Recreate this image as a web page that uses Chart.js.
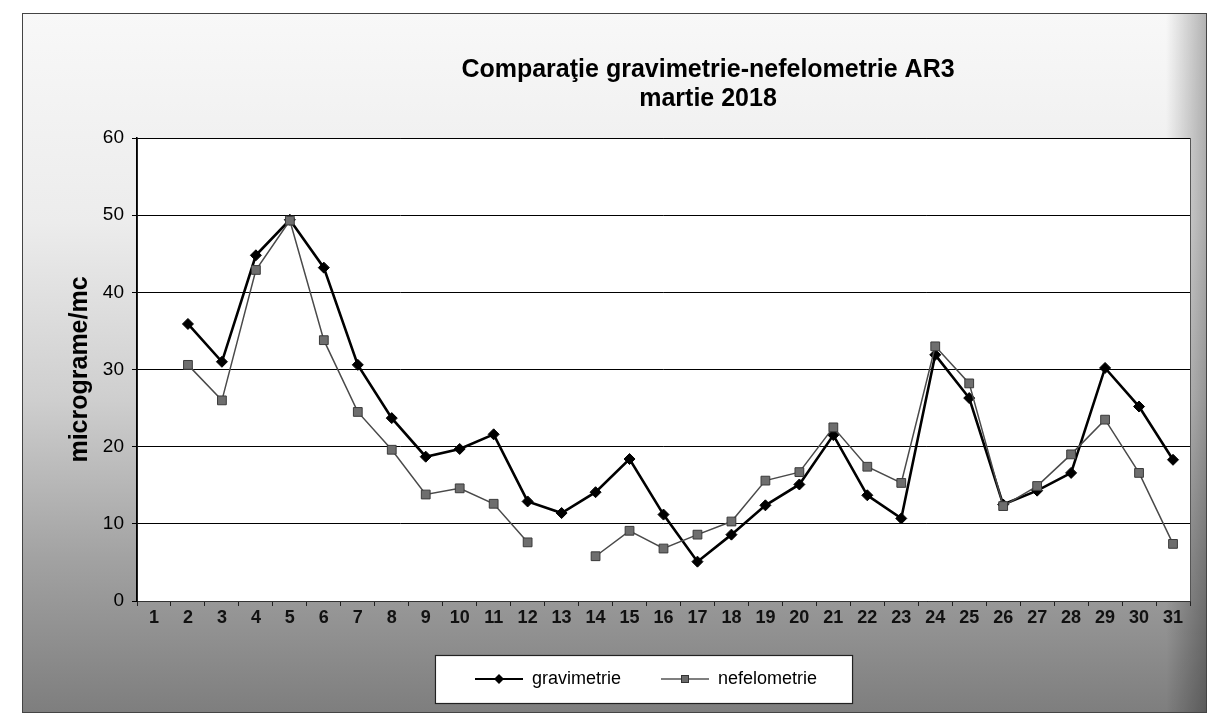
<!DOCTYPE html>
<html>
<head>
<meta charset="utf-8">
<script src="https://cdn.jsdelivr.net/npm/chart.js@4/dist/chart.umd.min.js"></script>
<style>
  html, body { margin: 0; padding: 0; background: #ffffff; }
  #wrap { width: 1210px; height: 722px; }
</style>
</head>
<body>
<div id="wrap"><canvas id="c" width="1210" height="722"></canvas></div>
<script>
// ---- data ----
const days = ['1','2','3','4','5','6','7','8','9','10','11','12','13','14','15','16','17','18','19','20','21','22','23','24','25','26','27','28','29','30','31'];
const gravimetrie = [null, 35.9, 31.0, 44.8, 49.4, 43.2, 30.6, 23.7, 18.7, 19.7, 21.6, 12.9, 11.4, 14.1, 18.4, 11.2, 5.1, 8.6, 12.4, 15.1, 21.5, 13.7, 10.7, 31.9, 26.3, 12.5, 14.3, 16.6, 30.2, 25.2, 18.3];
const nefelometrie = [null, 30.6, 26.0, 42.9, 49.3, 33.8, 24.5, 19.6, 13.8, 14.6, 12.6, 7.6, null, 5.8, 9.1, 6.8, 8.6, 10.3, 15.6, 16.7, 22.5, 17.4, 15.3, 33.0, 28.2, 12.3, 14.9, 19.0, 23.5, 16.6, 7.4];
const titleLines = ['Comparaţie gravimetrie-nefelometrie AR3', 'martie 2018'];
const yTitle = 'micrograme/mc';
const seriesNames = ['gravimetrie', 'nefelometrie'];
const yMin = 0, yMax = 60, yStep = 10;

// ---- legend symbols (line + marker) ----
function legendSymbol(kind) {
  const cv = document.createElement('canvas');
  cv.width = 48; cv.height = 14;
  const g = cv.getContext('2d');
  g.beginPath();
  g.moveTo(0, 7); g.lineTo(48, 7);
  if (kind === 'diamond') {
    g.strokeStyle = '#000'; g.lineWidth = 2; g.stroke();
    g.beginPath();
    g.moveTo(24, 2); g.lineTo(29, 7); g.lineTo(24, 12); g.lineTo(19, 7); g.closePath();
    g.fillStyle = '#000'; g.fill();
  } else {
    g.strokeStyle = '#555'; g.lineWidth = 1.5; g.stroke();
    g.fillStyle = '#6a6a6a'; g.fillRect(20, 3, 8, 8);
    g.strokeStyle = '#333'; g.lineWidth = 1; g.strokeRect(20.5, 3.5, 7, 7);
  }
  return cv;
}
const symGrav = legendSymbol('diamond');
const symNef = legendSymbol('square');

// ---- background / frame / legend box ----
const decor = {
  id: 'decor',
  afterLayout(chart) {
    // Excel-like placement of title and legend (centred differently from the canvas)
    if (chart.titleBlock) { chart.titleBlock.left += 102; chart.titleBlock.right += 102; }
    if (chart.legend) { chart.legend.left += 40; chart.legend.right += 40; }
  },
  beforeDraw(chart) {
    const ctx = chart.ctx;
    const W = chart.width, H = chart.height;
    ctx.save();
    ctx.fillStyle = '#ffffff';
    ctx.fillRect(0, 0, W, H);
    // outer chart frame with vertical shading
    const fx = 22, fy = 13, fw = W - 22 - 4, fh = H - 13 - 10;
    const gr = ctx.createLinearGradient(0, fy, 0, fy + fh);
    gr.addColorStop(0, '#f8f8f8');
    gr.addColorStop(0.3, '#ececec');
    gr.addColorStop(0.55, '#cfcfcf');
    gr.addColorStop(0.78, '#a2a2a2');
    gr.addColorStop(1, '#7e7e7e');
    ctx.fillStyle = gr;
    ctx.fillRect(fx, fy, fw, fh);
    // darker right edge
    const gh = ctx.createLinearGradient(fx + fw - 40, 0, fx + fw, 0);
    gh.addColorStop(0, 'rgba(0,0,0,0)');
    gh.addColorStop(1, 'rgba(0,0,0,0.28)');
    ctx.fillStyle = gh;
    ctx.fillRect(fx + fw - 40, fy, 40, fh);
    ctx.strokeStyle = '#444';
    ctx.lineWidth = 1;
    ctx.strokeRect(fx + 0.5, fy + 0.5, fw, fh);
    // plot area
    const a = chart.chartArea;
    ctx.fillStyle = '#ffffff';
    ctx.fillRect(a.left, a.top, a.right - a.left, a.bottom - a.top);
    ctx.strokeStyle = '#555';
    ctx.strokeRect(a.left + 0.5, a.top + 0.5, a.right - a.left, a.bottom - a.top);
    // legend box
    const hb = chart.legend && chart.legend.legendHitBoxes;
    if (hb && hb.length) {
      const first = hb[0], last = hb[hb.length - 1];
      const lx = first.left - 40, rx = last.left + last.width + 35;
      const ty = first.top - 15, by = first.top + first.height + 15;
      ctx.fillStyle = '#ffffff';
      ctx.fillRect(lx, ty, rx - lx, by - ty);
      ctx.strokeStyle = '#222';
      ctx.lineWidth = 1.2;
      ctx.strokeRect(lx + 0.5, ty + 0.5, rx - lx, by - ty);
    }
    ctx.restore();
  }
};

new Chart(document.getElementById('c'), {
  type: 'line',
  data: {
    labels: days,
    datasets: [
      {
        label: seriesNames[0],
        data: gravimetrie,
        order: 2,
        borderColor: '#000000',
        borderWidth: 2.6,
        pointStyle: 'rectRot',
        pointRadius: 5.5,
        pointBackgroundColor: '#000000',
        pointBorderColor: '#000000',
        pointBorderWidth: 1,
        tension: 0,
        spanGaps: false
      },
      {
        label: seriesNames[1],
        data: nefelometrie,
        order: 1,
        borderColor: '#4a4a4a',
        borderWidth: 1.5,
        pointStyle: 'rect',
        pointRadius: 6.2,
        pointBackgroundColor: '#6e6e6e',
        pointBorderColor: '#3a3a3a',
        pointBorderWidth: 1,
        tension: 0,
        spanGaps: false
      }
    ]
  },
  options: {
    responsive: false,
    animation: false,
    devicePixelRatio: 1,
    layout: { padding: { left: 22, right: 20, top: 0, bottom: 24 } },
    plugins: {
      tooltip: { enabled: false },
      title: {
        display: true,
        text: titleLines,
        color: '#000',
        font: { family: 'Liberation Sans, Arial, sans-serif', size: 25, weight: 'bold', lineHeight: 1.16 },
        padding: { top: 56, bottom: 24 }
      },
      legend: {
        display: true,
        position: 'bottom',
        labels: {
          color: '#000',
          font: { family: 'Liberation Sans, Arial, sans-serif', size: 18 },
          usePointStyle: true,
          pointStyleWidth: 48,
          padding: 40,
          sort: (a, b) => a.datasetIndex - b.datasetIndex,
          generateLabels: (chart) => chart.data.datasets.map((ds, i) => ({
            text: ds.label,
            datasetIndex: i,
            pointStyle: i === 0 ? symGrav : symNef,
            fillStyle: 'transparent',
            strokeStyle: 'transparent',
            lineWidth: 0,
            fontColor: '#000',
            hidden: false
          }))
        }
      }
    },
    scales: {
      x: {
        type: 'category',
        offset: true,
        afterFit: (s) => { s.height = 29; },
        grid: {
          display: true,
          drawOnChartArea: false,
          drawTicks: true,
          tickLength: 5,
          offset: true,
          color: '#222'
        },
        border: { display: true, color: '#333', width: 1 },
        ticks: {
          color: '#111',
          font: { family: 'Liberation Sans, Arial, sans-serif', size: 18, weight: 'bold' },
          padding: 1,
          maxRotation: 0,
          autoSkip: false
        }
      },
      y: {
        min: yMin,
        max: yMax,
        afterFit: (s) => { s.width = 115; },
        grid: {
          color: '#000',
          lineWidth: 1,
          drawTicks: true,
          tickLength: 5
        },
        border: { display: true, color: '#000', width: 1.6 },
        ticks: {
          stepSize: yStep,
          color: '#000',
          font: { family: 'Liberation Sans, Arial, sans-serif', size: 19 },
          padding: 8
        },
        title: {
          display: true,
          text: yTitle,
          color: '#000',
          font: { family: 'Liberation Sans, Arial, sans-serif', size: 25, weight: 'bold' },
          padding: { top: 43, bottom: 0 }
        }
      }
    }
  },
  plugins: [decor]
});
</script>
</body>
</html>
